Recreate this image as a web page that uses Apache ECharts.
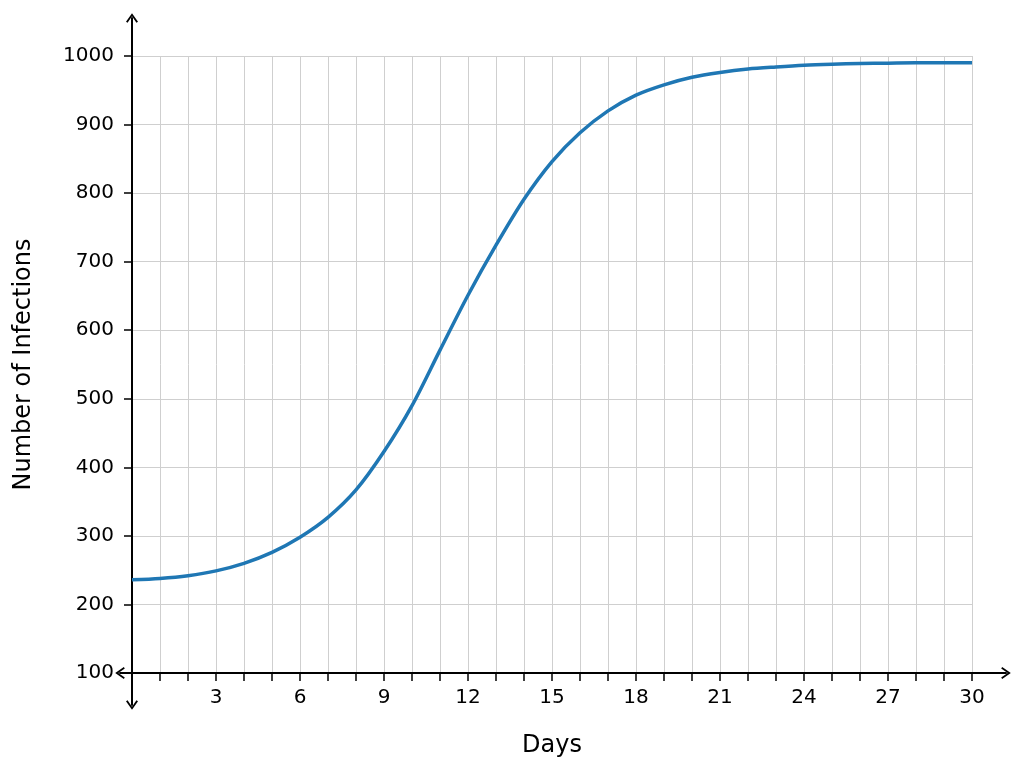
<!DOCTYPE html>
<html>
<head>
<meta charset="utf-8">
<script src="https://cdn.jsdelivr.net/npm/echarts@6/dist/echarts.min.js"></script>
<style>
html,body{margin:0;padding:0;background:#fff;}
#c{width:1022px;height:767px;}
</style>
</head>
<body>
<div id="c"></div>
<script>
const days = [0,1,2,3,4,5,6,7,8,9,10,11,12,13,14,15,16,17,18,19,20,21,22,23,24,25,26,27,28,29,30];
const infections = [236,238,242,249,260,276,298,327,367,423,490,571,651,724,791,846,888,920,943,958,969,976,981,984,986.5,988,989,989.5,990,990,990];
const xTickLabels = ['3','6','9','12','15','18','21','24','27','30'];
const yTickLabels = ['100','200','300','400','500','600','700','800','900','1000'];

const FONT = 'DejaVu Sans';
const chevron = 'path://M5,0 L10,7.2 L8.7,8 L5,2.6 L1.3,8 L0,7.2 Z';

const chart = echarts.init(document.getElementById('c'), null, {renderer:'canvas'});
chart.setOption({
  backgroundColor:'#ffffff',
  animation:false,
  grid:[
    {left:132, right:50, top:56, bottom:94},
    {left:120, right:16, top:18, bottom:62}
  ],
  xAxis:[
    {
      gridIndex:0, type:'value', min:0, max:30, interval:1,
      axisLine:{show:false},
      axisTick:{show:true, length:8, lineStyle:{color:'#000', width:1.5}},
      axisLabel:{
        margin:15, fontSize:20, color:'#000', fontFamily:FONT,
        formatter:function(v){ const s=String(v); return xTickLabels.indexOf(s)>=0 ? s : ''; }
      },
      splitLine:{show:true, lineStyle:{color:'#cfcfcf', width:1}},
      name:'Days', nameLocation:'middle', nameGap:61,
      nameTextStyle:{fontSize:24, color:'#000', fontFamily:FONT}
    },
    {
      gridIndex:1, type:'value', min:-12, max:874,
      axisLine:{show:true, onZero:true, symbol:[chevron, chevron], symbolSize:[12,10], lineStyle:{color:'#000', width:2}},
      axisTick:{show:false}, axisLabel:{show:false}, splitLine:{show:false}
    }
  ],
  yAxis:[
    {
      gridIndex:0, type:'value', min:100, max:1000, interval:100,
      axisLine:{show:false},
      axisTick:{show:true, length:8, lineStyle:{color:'#000', width:1.5}},
      axisLabel:{
        margin:18, fontSize:20, color:'#000', fontFamily:FONT,
        formatter:function(v){ const s=String(v); return yTickLabels.indexOf(s)>=0 ? s : ''; }
      },
      splitLine:{show:true, lineStyle:{color:'#cfcfcf', width:1}},
      name:'Number of Infections', nameLocation:'middle', nameGap:96,
      nameTextStyle:{fontSize:24, color:'#000', fontFamily:FONT}
    },
    {
      gridIndex:1, type:'value', min:-32, max:655,
      axisLine:{show:true, onZero:true, symbol:[chevron, chevron], symbolSize:[12,10], lineStyle:{color:'#000', width:2}},
      axisTick:{show:false}, axisLabel:{show:false}, splitLine:{show:false}
    }
  ],
  series:[
    {
      type:'line', xAxisIndex:0, yAxisIndex:0,
      data: days.map((d,i)=>[d, infections[i]]),
      smooth:0.3, showSymbol:false,
      lineStyle:{color:'#1f77b4', width:3.5},
      z:5
    }
  ]
});
</script>
</body>
</html>
